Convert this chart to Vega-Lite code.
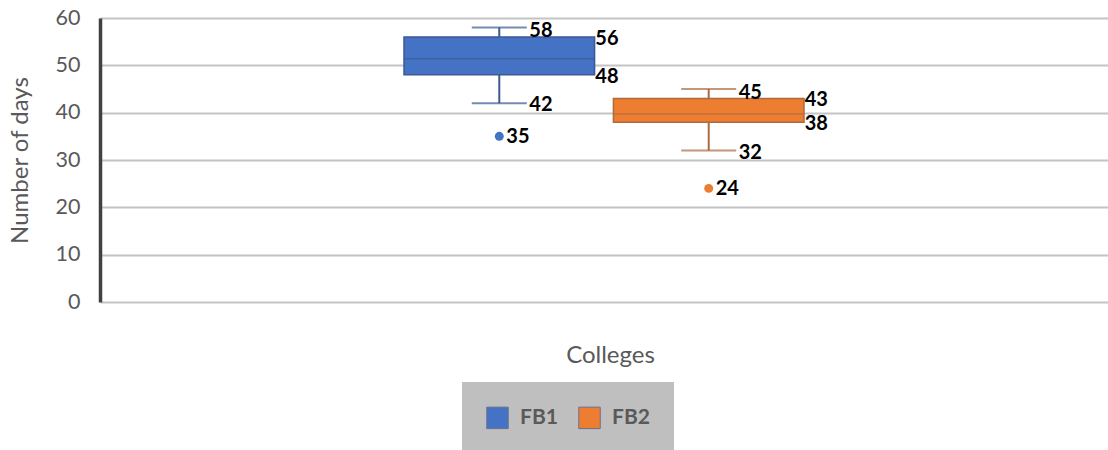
{
  "$schema": "https://vega.github.io/schema/vega-lite/v6.json",
  "width": 1008,
  "height": 284,
  "autosize": {"type": "none"},
  "padding": {"left": 100, "top": 18, "right": 0, "bottom": 148},
  "background": "white",
  "config": {
    "view": {"stroke": null},
    "font": "Lato",
    "axis": {"labelFont": "Lato", "titleFont": "Lato"},
    "legend": {"labelFont": "Lato"}
  },
  "data": {
    "values": [
      {"group": "Colleges", "series": "FB1", "min": 42, "q1": 48, "median": 51.4, "q3": 56, "max": 58, "outlier": 35},
      {"group": "Colleges", "series": "FB2", "min": 32, "q1": 38, "median": 39.7, "q3": 43, "max": 45, "outlier": 24}
    ]
  },
  "encoding": {
    "x": {
      "field": "group",
      "type": "nominal",
      "scale": {"paddingOuter": 0.76, "paddingInner": 0},
      "axis": {
        "title": "Colleges",
        "labels": false,
        "ticks": false,
        "domain": false,
        "grid": false,
        "titleFontSize": 24,
        "titleFontWeight": "normal",
        "titleColor": "#595959",
        "titleX": 510,
        "titleY": 53,
        "titleBaseline": "middle",
        "titleAlign": "center"
      }
    },
    "xOffset": {"field": "series", "type": "nominal", "scale": {"paddingInner": 0.09, "paddingOuter": 0}}
  },
  "layer": [
    {
      "mark": {"type": "rule", "strokeWidth": 2},
      "encoding": {
        "y": {
          "field": "min",
          "type": "quantitative",
          "scale": {"domain": [0, 60], "nice": false},
          "axis": {
            "title": "Number of days",
            "values": [0, 10, 20, 30, 40, 50, 60],
            "labelFontSize": 21.5,
            "labelColor": "#595959",
            "labelPadding": 20,
            "ticks": false,
            "domain": true,
            "domainColor": "#404040",
            "domainWidth": 3.5,
            "grid": true,
            "gridColor": "#c4c4c4",
            "gridWidth": 2,
            "titleFontSize": 24,
            "titleFontWeight": "normal",
            "titleColor": "#595959",
            "titleX": -80,
            "titleY": 142,
            "titleAngle": -90,
            "titleAlign": "center",
            "titleBaseline": "middle"
          }
        },
        "y2": {"field": "max"},
        "color": {"field": "series", "type": "nominal", "scale": {"range": ["#3d5893", "#ad6a3f"]}, "legend": null}
      }
    },
    {
      "mark": {"type": "bar"},
      "encoding": {
        "y": {"field": "q1", "type": "quantitative"},
        "y2": {"field": "q3"},
        "fill": {
          "field": "series",
          "type": "nominal",
          "scale": {"domain": ["FB1", "FB2"], "range": ["#4472c4", "#ed7d31"]},
          "legend": {
            "title": null,
            "orient": "none",
            "legendX": 362,
            "legendY": 364,
            "direction": "horizontal",
            "fillColor": "#bfbfbf",
            "padding": 24,
            "symbolType": "square",
            "symbolSize": 461,
            "symbolStrokeColor": "#6f6f8f",
            "symbolStrokeWidth": 1,
            "labelFontSize": 21,
            "labelFontWeight": "bold",
            "labelColor": "#595959",
            "labelOffset": 11,
            "columnPadding": 18
          }
        }
      }
    },
    {
      "mark": {"type": "bar", "filled": false, "strokeWidth": 1.5},
      "encoding": {
        "y": {"field": "q1", "type": "quantitative"},
        "y2": {"field": "q3"},
        "color": {"field": "series", "type": "nominal", "legend": null}
      }
    },
    {
      "mark": {"type": "tick", "size": 190, "thickness": 1.5},
      "encoding": {
        "y": {"field": "median", "type": "quantitative"},
        "color": {"field": "series", "type": "nominal", "legend": null}
      }
    },
    {
      "mark": {"type": "tick", "size": 55, "thickness": 2},
      "encoding": {
        "y": {"field": "min", "type": "quantitative"},
        "color": {"field": "series", "type": "nominal", "legend": null}
      }
    },
    {
      "mark": {"type": "tick", "size": 55, "thickness": 2},
      "encoding": {
        "y": {"field": "max", "type": "quantitative"},
        "color": {"field": "series", "type": "nominal", "legend": null}
      }
    },
    {
      "mark": {"type": "point", "filled": true, "size": 80, "opacity": 1},
      "encoding": {
        "y": {"field": "outlier", "type": "quantitative"},
        "fill": {"field": "series", "type": "nominal"}
      }
    },
    {
      "mark": {"type": "text", "align": "left", "baseline": "middle", "dx": 30, "dy": 4, "fontSize": 20, "fontWeight": "bold", "color": "black"},
      "encoding": {"y": {"field": "max", "type": "quantitative"}, "text": {"field": "max"}}
    },
    {
      "mark": {"type": "text", "align": "left", "baseline": "middle", "dx": 96, "dy": 2, "fontSize": 20, "fontWeight": "bold", "color": "black"},
      "encoding": {"y": {"field": "q3", "type": "quantitative"}, "text": {"field": "q3"}}
    },
    {
      "mark": {"type": "text", "align": "left", "baseline": "middle", "dx": 96, "dy": 2, "fontSize": 20, "fontWeight": "bold", "color": "black"},
      "encoding": {"y": {"field": "q1", "type": "quantitative"}, "text": {"field": "q1"}}
    },
    {
      "mark": {"type": "text", "align": "left", "baseline": "middle", "dx": 30, "dy": 2, "fontSize": 20, "fontWeight": "bold", "color": "black"},
      "encoding": {"y": {"field": "min", "type": "quantitative"}, "text": {"field": "min"}}
    },
    {
      "mark": {"type": "text", "align": "left", "baseline": "middle", "dx": 7, "dy": 1, "fontSize": 20, "fontWeight": "bold", "color": "black"},
      "encoding": {"y": {"field": "outlier", "type": "quantitative"}, "text": {"field": "outlier"}}
    }
  ]
}
